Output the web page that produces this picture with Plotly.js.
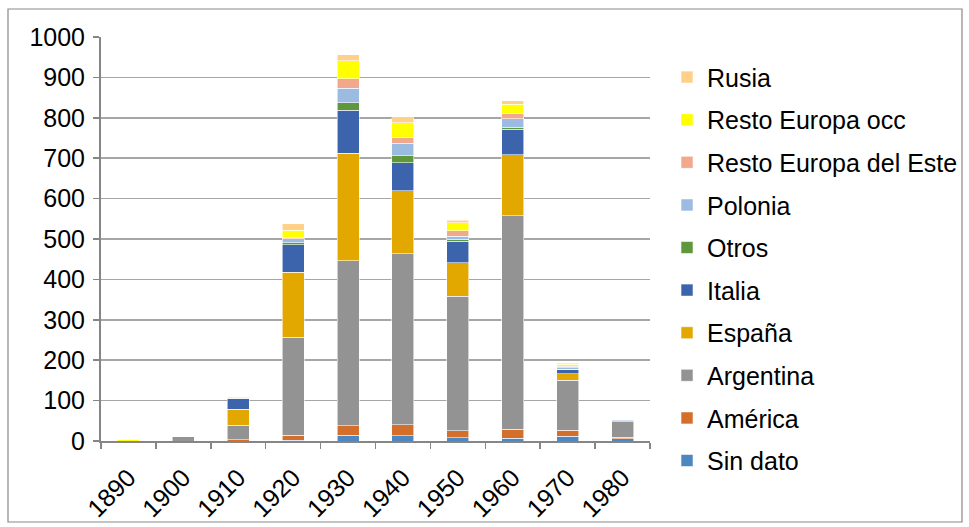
<!DOCTYPE html>
<html>
<head>
<meta charset="utf-8">
<script src="https://cdn.plot.ly/plotly-3.0.1.min.js"></script>
<style>
html,body{margin:0;padding:0;background:#fff;}
#chart{width:969px;height:527px;}
</style>
</head>
<body>
<div id="chart"></div>
<script>
var decades = ['1890','1900','1910','1920','1930','1940','1950','1960','1970','1980'];
var sinDato        = [0, 0, 0, 2, 14, 13, 8, 7, 12, 6];
var america        = [0, 0, 3, 12, 24, 27, 17, 22, 15, 3];
var argentina      = [0, 11, 36, 243, 408, 424, 333, 529, 124, 39];
var espana         = [0, 0, 40, 161, 266, 156, 83, 150, 15, 2];
var italia         = [0, 0, 25, 68, 107, 69, 54, 64, 11, 0];
var otros          = [0, 0, 2, 5, 18, 17, 5, 5, 1, 0];
var polonia        = [0, 1, 1, 10, 36, 31, 7, 21, 3, 2];
var restoEste      = [0, 0, 0, 3, 24, 15, 13, 13, 4, 0];
var restoOcc       = [3, 0, 2, 18, 44, 36, 20, 22, 5, 0];
var rusia          = [0, 0, 0, 16, 15, 12, 7, 9, 3, 0];
var yTicks = [0,100,200,300,400,500,600,700,800,900,1000];

var series = [
  {name:'Sin dato', y:sinDato, color:'#4E86BF'},
  {name:'América', y:america, color:'#D46E2B'},
  {name:'Argentina', y:argentina, color:'#939393'},
  {name:'España', y:espana, color:'#E2A800'},
  {name:'Italia', y:italia, color:'#3C64AC'},
  {name:'Otros', y:otros, color:'#5F983C'},
  {name:'Polonia', y:polonia, color:'#9BBBE0'},
  {name:'Resto Europa del Este', y:restoEste, color:'#F1A88C'},
  {name:'Resto Europa occ', y:restoOcc, color:'#FFFF00'},
  {name:'Rusia', y:rusia, color:'#FFD08A'}
];

var traces = series.map(function(s, i){
  return {
    type:'bar', name:s.name, x:decades, y:s.y, legendgroup:s.name,
    legendrank: 1000 - i,
    marker:{color:s.color, line:{color:'rgba(255,255,255,0.7)', width:0.8}},
    hoverinfo:'name+y'
  };
});

var font = {family:'"Liberation Sans", Arial, sans-serif', size:25, color:'#000'};

var layout = {
  width:969, height:527,
  barmode:'stack', bargap:0.6,
  paper_bgcolor:'#fff', plot_bgcolor:'#fff',
  font:font,
  margin:{l:101, r:319, t:37, b:86, pad:0, autoexpand:false},
  showlegend:true,
  legend:{
    traceorder:'grouped', tracegroupgap:7.1, maxheight:520,
    x:1.031, xanchor:'left', y:0.957, yanchor:'top',
    font:font, bgcolor:'rgba(0,0,0,0)'
  },
  xaxis:{
    type:'category', tickangle:-45, showgrid:false,
    showline:true, linecolor:'#868686', linewidth:2,
    ticks:'outside', tickson:'boundaries', ticklen:6, tickcolor:'#868686', tickwidth:1.5,
    ticklabelstandoff:10,
    tickfont:font, fixedrange:true
  },
  yaxis:{
    range:[0,1000], tickvals:yTicks, ticktext:yTicks.map(String),
    showgrid:true, gridcolor:'#A6A6A6', gridwidth:1.5,
    showline:true, linecolor:'#868686', linewidth:2,
    ticks:'outside', ticklen:6, tickcolor:'#868686', tickwidth:1.5,
    ticklabelstandoff:3,
    zeroline:false, tickfont:font, fixedrange:true
  },
  shapes:[{
    type:'rect', xref:'paper', yref:'paper',
    x0:-93/549, x1:861/549, y0:-81/404, y1:432/404,
    line:{color:'#898989', width:1.2}, fillcolor:'rgba(0,0,0,0)', layer:'below'
  }]
};

Plotly.newPlot('chart', traces, layout, {displayModeBar:false, staticPlot:true});
</script>
</body>
</html>
